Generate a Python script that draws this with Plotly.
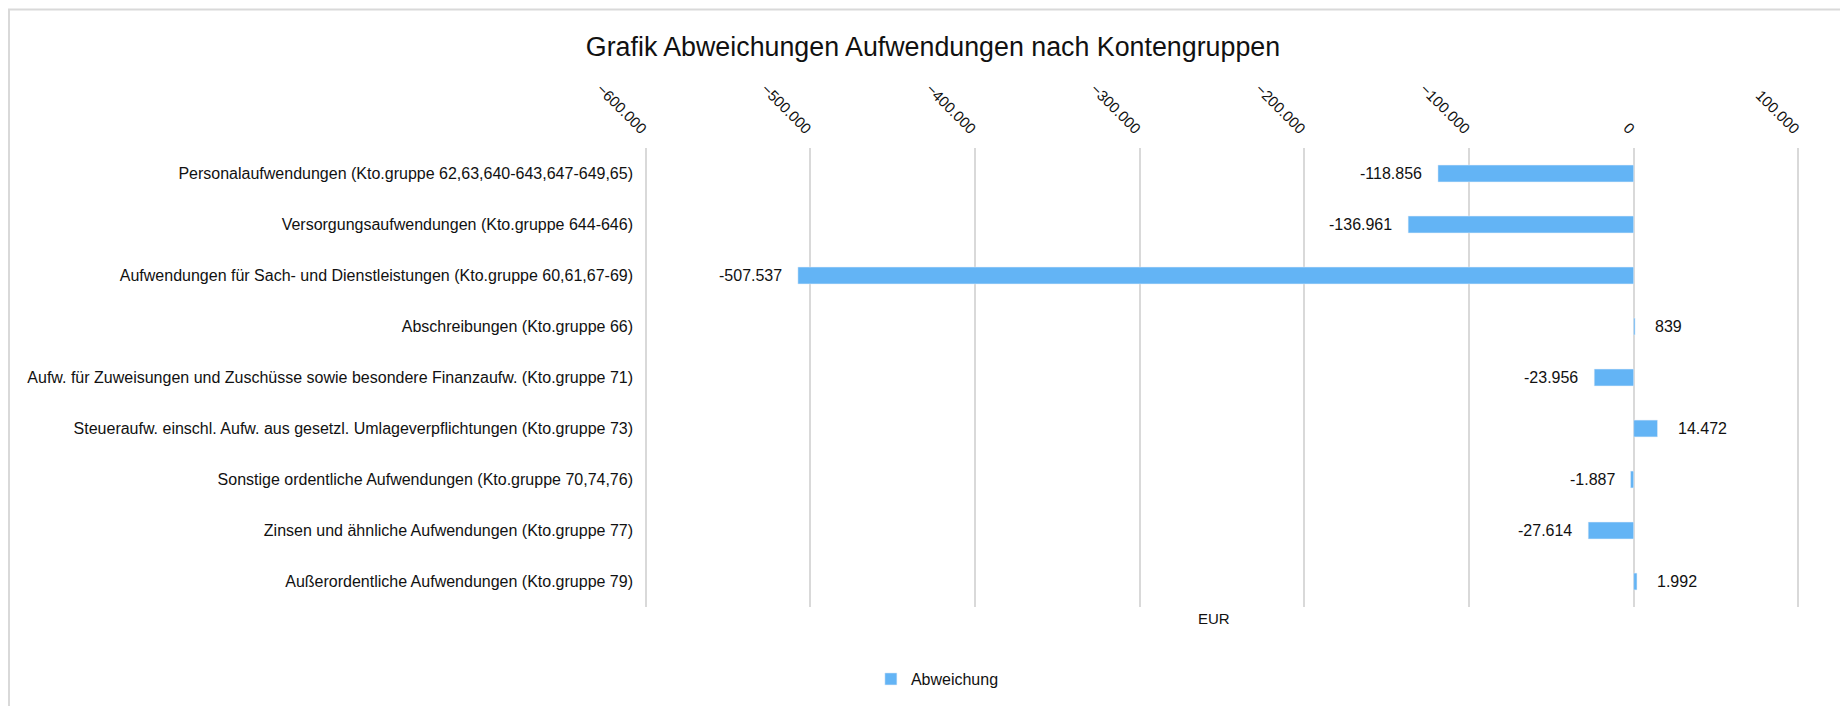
import plotly.graph_objects as go

# Kontengruppen und Abweichungen in EUR
categories = [
    "Personalaufwendungen (Kto.gruppe 62,63,640-643,647-649,65)",
    "Versorgungsaufwendungen (Kto.gruppe 644-646)",
    "Aufwendungen für Sach- und Dienstleistungen (Kto.gruppe 60,61,67-69)",
    "Abschreibungen (Kto.gruppe 66)",
    "Aufw. für Zuweisungen und Zuschüsse sowie besondere Finanzaufw. (Kto.gruppe 71)",
    "Steueraufw. einschl. Aufw. aus gesetzl. Umlageverpflichtungen (Kto.gruppe 73)",
    "Sonstige ordentliche Aufwendungen (Kto.gruppe 70,74,76)",
    "Zinsen und ähnliche Aufwendungen (Kto.gruppe 77)",
    "Außerordentliche Aufwendungen (Kto.gruppe 79)",
]
abweichung = [-118856, -136961, -507537, 839, -23956, 14472, -1887, -27614, 1992]
tick_values = [-600000, -500000, -400000, -300000, -200000, -100000, 0, 100000]

bar_color = "#63B4F5"
text_color = "#111111"
font_name = "Liberation Sans, Arial, sans-serif"

fig = go.Figure()
fig.add_trace(go.Bar(
    y=categories, x=abweichung, orientation="h",
    name="Abweichung", marker_color=bar_color, width=0.33,
))

# data labels next to the bar ends
for cat, val in zip(categories, abweichung):
    fig.add_annotation(
        x=val, y=cat, text="{:,}".format(val).replace(",", "."),
        showarrow=False, xanchor="right" if val < 0 else "left",
        xshift=-14 if val < 0 else 18,
        font=dict(size=16, color=text_color),
    )

# axis title below the plot (ticks are on top)
fig.add_annotation(
    x=0.493, y=-0.026, xref="paper", yref="paper", text="EUR",
    showarrow=False, xanchor="center", yanchor="middle",
    font=dict(size=15, color=text_color),
)

# thin chart border
fig.add_shape(
    type="rect", xref="paper", yref="paper",
    x0=-0.5493, x1=1.2, y0=-1.0, y1=1.3017,
    line=dict(color="#D9D9D9", width=2),
)

fig.update_layout(
    width=1840, height=698,
    margin=dict(l=636, r=48, t=140, b=99, autoexpand=False),
    paper_bgcolor="white", plot_bgcolor="white",
    separators=",.",
    font=dict(family=font_name, size=16, color=text_color),
    title=dict(
        text="Grafik Abweichungen Aufwendungen nach Kontengruppen",
        x=0.5027, xanchor="center", y=0.9444, yanchor="middle",
        font=dict(size=26.8, color=text_color),
    ),
    showlegend=True,
    legend=dict(
        orientation="h", x=0.2538, xanchor="center", y=-0.157, yanchor="middle",
        font=dict(size=16, color=text_color), itemwidth=30,
    ),
    bargap=0.67,
)

fig.update_xaxes(
    side="top", range=[-601000, 101000], tickvals=tick_values,
    tickformat=",.0f", tickangle=45,
    showgrid=True, gridcolor="#D9D9D9", gridwidth=1.5,
    zeroline=False, showline=False, ticks="", ticklabelstandoff=7,
    tickfont=dict(size=15, color=text_color),
)
fig.update_yaxes(
    autorange="reversed", showgrid=False, zeroline=False, showline=False,
    ticks="", ticklabelstandoff=10,
    tickfont=dict(size=16, color=text_color),
)

fig.write_html("out.html")
